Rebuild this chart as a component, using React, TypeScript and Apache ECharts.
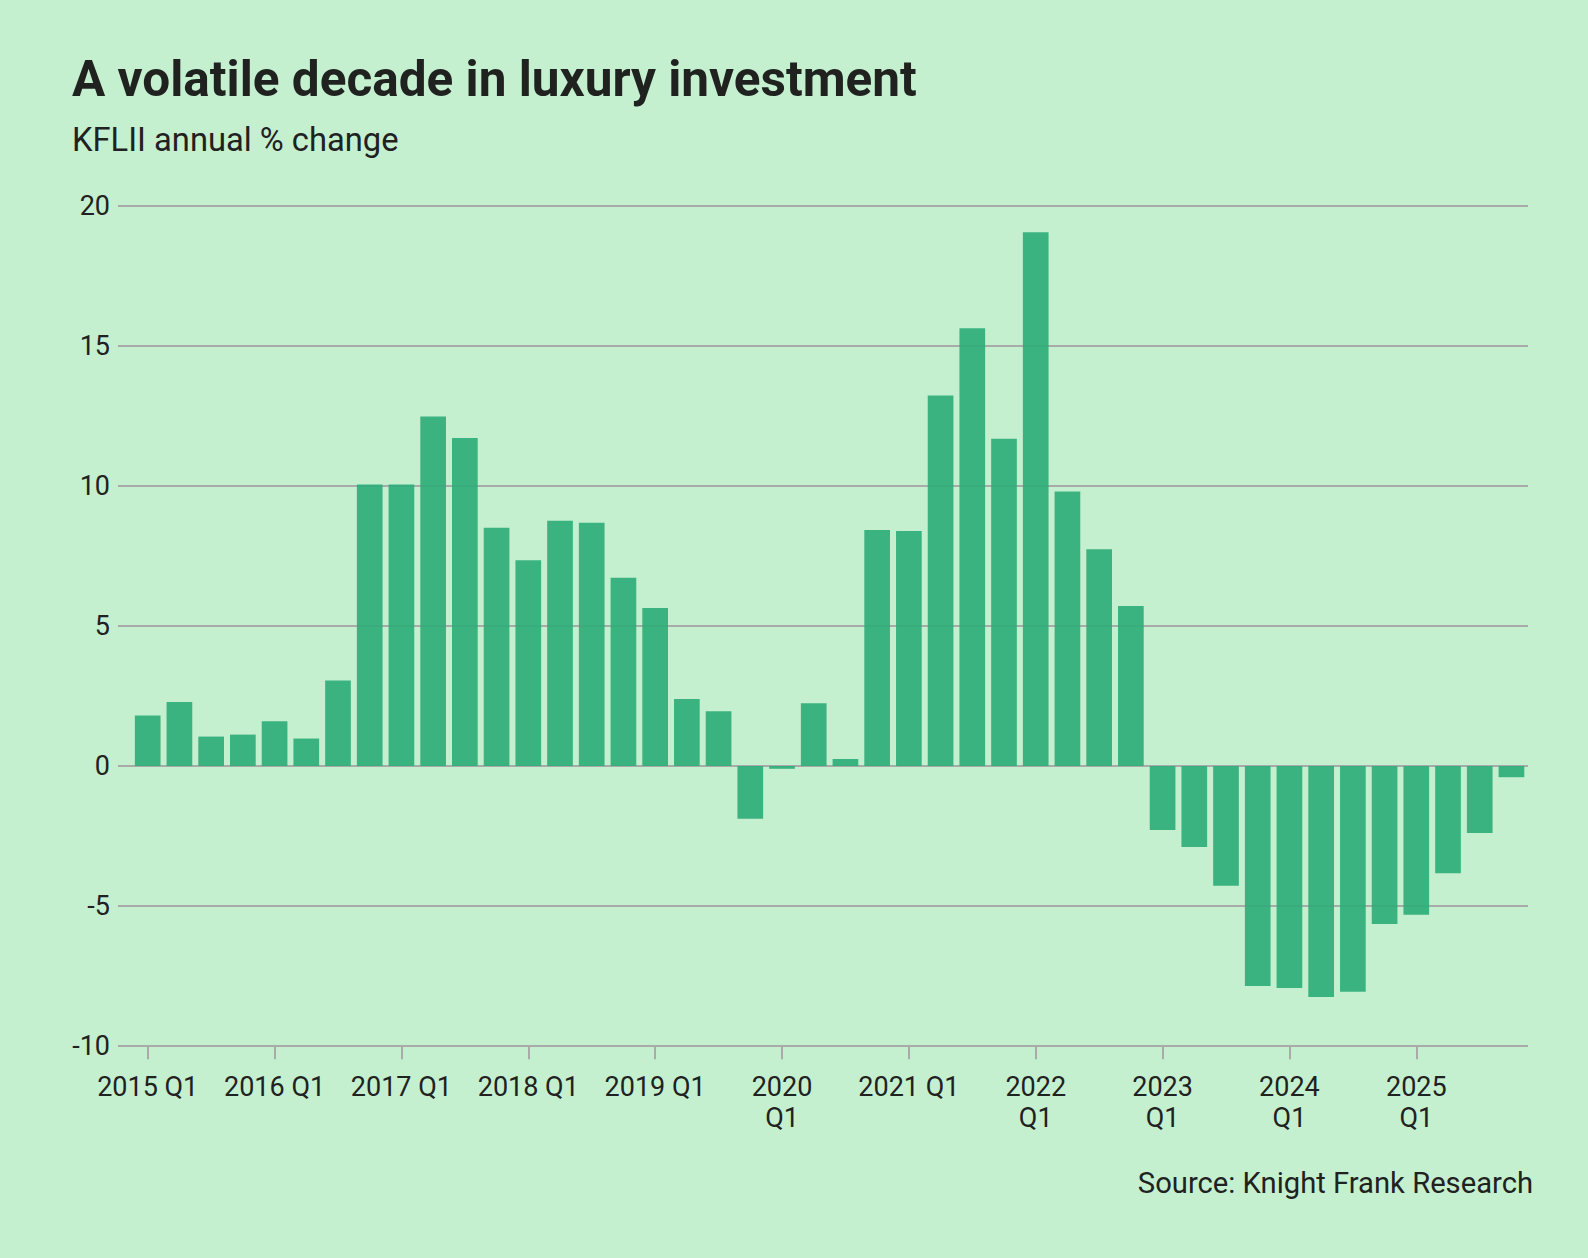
import React, { useEffect, useRef } from "react";
import * as echarts from "echarts";

const categories = [
  "2015 Q1", "2015 Q2", "2015 Q3", "2015 Q4",
  "2016 Q1", "2016 Q2", "2016 Q3", "2016 Q4",
  "2017 Q1", "2017 Q2", "2017 Q3", "2017 Q4",
  "2018 Q1", "2018 Q2", "2018 Q3", "2018 Q4",
  "2019 Q1", "2019 Q2", "2019 Q3", "2019 Q4",
  "2020 Q1", "2020 Q2", "2020 Q3", "2020 Q4",
  "2021 Q1", "2021 Q2", "2021 Q3", "2021 Q4",
  "2022 Q1", "2022 Q2", "2022 Q3", "2022 Q4",
  "2023 Q1", "2023 Q2", "2023 Q3", "2023 Q4",
  "2024 Q1", "2024 Q2", "2024 Q3", "2024 Q4",
  "2025 Q1", "2025 Q2", "2025 Q3", "2025 Q4",
];

const values = [
  1.8, 2.28, 1.05, 1.12,
  1.6, 0.98, 3.05, 10.05,
  10.05, 12.47, 11.71, 8.5,
  7.34, 8.75, 8.68, 6.72,
  5.64, 2.39, 1.95, -1.88,
  -0.1, 2.24, 0.25, 8.42,
  8.39, 13.22, 15.62, 11.68,
  19.05, 9.8, 7.74, 5.71,
  -2.28, -2.89, -4.27, -7.85,
  -7.92, -8.24, -8.06, -5.64,
  -5.31, -3.83, -2.39, -0.4,
];

// Years whose Q1 tick label wraps onto two lines
const wrappedYears = ["2020", "2022", "2023", "2024", "2025"];

const yMin = -10;
const yMax = 20;
const yInterval = 5;

const titleText = "A volatile decade in luxury investment";
const subtitleText = "KFLII annual % change";
const sourceText = "Source: Knight Frank Research";

const FONT = "Roboto";
const TEXT_COLOR = "#1f221f";
const GRID_COLOR = "#a9aba9";
const BG = "#c5f0d0";

export default function App() {
  const ref = useRef<HTMLDivElement>(null);

  useEffect(() => {
    if (!ref.current) return;
    const chart = echarts.init(ref.current, undefined, { renderer: "svg" });
    const gridTop = 205.6;
    const gridBottom = 1258 - 1046.2;
    chart.setOption({
      animation: false,
      backgroundColor: BG,
      textStyle: { fontFamily: FONT },
      title: [
        {
          text: titleText,
          left: 72,
          top: 54,
          textStyle: {
            fontFamily: FONT,
            fontSize: 49.5,
            fontWeight: 700,
            color: TEXT_COLOR,
            lineHeight: 49,
          },
          padding: 0,
        },
        {
          text: subtitleText,
          left: 72,
          top: 122,
          textStyle: {
            fontFamily: FONT,
            fontSize: 32.7,
            fontWeight: 400,
            color: TEXT_COLOR,
            lineHeight: 36,
          },
          padding: 0,
        },
        {
          text: sourceText,
          right: 1588 - 1533,
          top: 1167,
          textStyle: {
            fontFamily: FONT,
            fontSize: 29.2,
            fontWeight: 400,
            color: TEXT_COLOR,
            lineHeight: 32,
          },
          padding: 0,
        },
      ],
      grid: [
        { left: 118, right: 1588 - 1528, top: gridTop, bottom: gridBottom },
        { left: 131.85, right: 1588 - 1527.3, top: gridTop, bottom: gridBottom },
      ],
      xAxis: [
        {
          type: "category",
          gridIndex: 0,
          data: categories,
          show: false,
        },
        {
          type: "category",
          gridIndex: 1,
          data: categories,
          position: "bottom",
          axisLine: { show: false, onZero: false },
          axisTick: {
            show: true,
            alignWithLabel: true,
            interval: 3,
            length: 13,
            lineStyle: { color: GRID_COLOR, width: 2 },
          },
          axisLabel: {
            interval: 3,
            margin: 25,
            fontFamily: FONT,
            fontSize: 27,
            lineHeight: 31,
            color: TEXT_COLOR,
            formatter: (v: string) => {
              const [year, q] = v.split(" ");
              return wrappedYears.includes(year) ? `${year}\n${q}` : v;
            },
          },
          splitLine: { show: false },
        },
      ],
      yAxis: [
        {
          type: "value",
          gridIndex: 0,
          min: yMin,
          max: yMax,
          interval: yInterval,
          axisLine: { show: false },
          axisTick: { show: false },
          axisLabel: {
            margin: 8,
            fontFamily: FONT,
            fontSize: 27,
            color: TEXT_COLOR,
          },
          splitLine: { show: true, lineStyle: { color: GRID_COLOR, width: 2 } },
        },
        {
          type: "value",
          gridIndex: 1,
          min: yMin,
          max: yMax,
          interval: yInterval,
          show: false,
          splitLine: { show: false },
        },
      ],
      series: [
        {
          type: "bar",
          xAxisIndex: 1,
          yAxisIndex: 1,
          data: values,
          barWidth: "81%",
          itemStyle: { color: "#2bac77", opacity: 0.9 },
          emphasis: { disabled: true },
        },
      ],
    });
    return () => chart.dispose();
  }, []);

  return (
    <div
      ref={ref}
      style={{ position: "fixed", left: 0, top: 0, width: 1588, height: 1258 }}
    />
  );
}
